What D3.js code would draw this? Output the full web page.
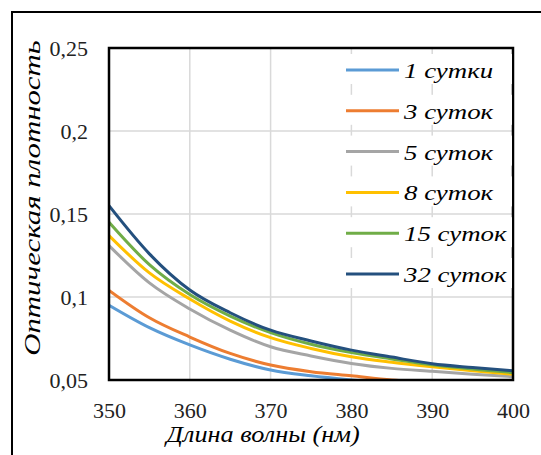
<html>
<head>
<meta charset="utf-8">
<title>Оптическая плотность</title>
<script src="https://d3js.org/d3.v7.min.js"></script>
<style>
  body { margin: 0; background: #fff; }
</style>
</head>
<body>
<svg id="chart" width="541" height="455"></svg>
<script>
// wavelengths, nm
var wavelengths = [350, 355, 360, 365, 370, 375, 380, 385, 390, 395, 400];

// optical density
var day1  = [0.095, 0.0815, 0.0711, 0.0625, 0.056, 0.0525, 0.050, 0.048, 0.0465, 0.045, 0.044];
var day3  = [0.104, 0.0875, 0.0759, 0.066, 0.059, 0.055, 0.0525, 0.050, 0.0485, 0.047, 0.046];
var day5  = [0.131, 0.1085, 0.0928, 0.080, 0.070, 0.0645, 0.060, 0.057, 0.0552, 0.0535, 0.052];
var day8  = [0.137, 0.1145, 0.0988, 0.0855, 0.0755, 0.069, 0.064, 0.0607, 0.058, 0.0556, 0.0535];
var day15 = [0.145, 0.1195, 0.1015, 0.0885, 0.0785, 0.0715, 0.0665, 0.0627, 0.0592, 0.0566, 0.0545];
var day32 = [0.155, 0.126, 0.1042, 0.0905, 0.080, 0.0735, 0.068, 0.0638, 0.0598, 0.0575, 0.0555];

var seriesNames = ["1 сутки", "3 суток", "5 суток", "8 суток", "15 суток", "32 суток"];
var seriesColors = ["#5b9bd5", "#ed7d31", "#a5a5a5", "#ffc000", "#70ad47", "#24507e"];
var allSeries = [day1, day3, day5, day8, day15, day32];

var xTicks = [350, 360, 370, 380, 390, 400];
var yTicks = [0.05, 0.1, 0.15, 0.2, 0.25];

var serif = "'Times New Roman', 'Liberation Serif', Tinos, 'DejaVu Serif', 'Noto Serif', serif";

// the serif italic in the original runs wider, stretch our text to its width
function widen(sel, k) {
  sel.each(function() {
    var w = this.getComputedTextLength();
    d3.select(this).attr("textLength", w * k).attr("lengthAdjust", "spacingAndGlyphs");
  });
}

var svg = d3.select("#chart");

// outer frame (runs off the right and bottom edge)
svg.append("rect")
  .attr("x", 12).attr("y", 12)
  .attr("width", 560).attr("height", 480)
  .attr("fill", "none").attr("stroke", "#000").attr("stroke-width", 2);

var pLeft = 109, pRight = 513, pTop = 48, pBottom = 380;

var x = d3.scaleLinear().domain([350, 400]).range([pLeft, pRight]);
var y = d3.scaleLinear().domain([0.05, 0.25]).range([pBottom, pTop]);

// gridlines
svg.append("g")
  .selectAll("line")
  .data(xTicks)
  .enter().append("line")
    .attr("x1", d => x(d)).attr("x2", d => x(d))
    .attr("y1", pTop).attr("y2", pBottom)
    .attr("stroke", "#d9d9d9").attr("stroke-width", 1.5);

svg.append("g")
  .selectAll("line")
  .data(yTicks)
  .enter().append("line")
    .attr("x1", pLeft).attr("x2", pRight)
    .attr("y1", d => y(d)).attr("y2", d => y(d))
    .attr("stroke", "#d9d9d9").attr("stroke-width", 1.5);

// clip for curves dipping below 0,05
svg.append("clipPath").attr("id", "plotclip")
  .append("rect")
    .attr("x", pLeft).attr("y", pTop)
    .attr("width", pRight - pLeft).attr("height", pBottom - pTop);

var line = d3.line()
  .x((d, i) => x(wavelengths[i]))
  .y(d => y(d))
  .curve(d3.curveMonotoneX);

svg.append("g")
  .attr("clip-path", "url(#plotclip)")
  .selectAll("path")
  .data(allSeries)
  .enter().append("path")
    .attr("d", d => line(d))
    .attr("fill", "none")
    .attr("stroke", (d, i) => seriesColors[i])
    .attr("stroke-width", 3);

// plot frame
svg.append("rect")
  .attr("x", pLeft).attr("y", pTop)
  .attr("width", pRight - pLeft).attr("height", pBottom - pTop)
  .attr("fill", "none").attr("stroke", "#000").attr("stroke-width", 2.5);

// axes (labels only, frame drawn above)
var xAxis = d3.axisBottom(x).tickValues(xTicks).tickSize(0).tickPadding(22)
  .tickFormat(d3.format("d"));
var gx = svg.append("g").attr("transform", "translate(0," + pBottom + ")").call(xAxis);
gx.select(".domain").remove();
gx.attr("font-family", serif).attr("font-size", 22);
gx.selectAll("text").attr("fill", "#222");

var yAxis = d3.axisLeft(y).tickValues(yTicks).tickSize(0).tickPadding(21)
  .tickFormat(d => String(d).replace(".", ","));
var gy = svg.append("g").attr("transform", "translate(" + pLeft + ",0)").call(yAxis);
gy.select(".domain").remove();
gy.attr("font-family", serif).attr("font-size", 22);
gy.selectAll("text").attr("fill", "#222");

// axis titles
svg.append("text")
  .attr("x", 263).attr("y", 442)
  .attr("text-anchor", "middle")
  .attr("font-family", serif).attr("font-size", 23).attr("font-style", "italic")
  .text("Длина волны (нм)")
  .call(widen, 1.14);

svg.append("text")
  .attr("transform", "translate(40,198) rotate(-90)")
  .attr("text-anchor", "middle")
  .attr("font-family", serif).attr("font-size", 23).attr("font-style", "italic")
  .text("Оптическая плотность")
  .call(widen, 1.34);

// legend
var legend = svg.append("g")
  .selectAll("g")
  .data(seriesNames)
  .enter().append("g")
    .attr("transform", (d, i) => "translate(346," + (70 + i * 40.8) + ")");

legend.append("rect")
  .attr("x", -2).attr("y", -16).attr("width", 168).attr("height", 30)
  .attr("fill", "#fff");

legend.append("line")
  .attr("x1", 0).attr("x2", 53)
  .attr("stroke", (d, i) => seriesColors[i]).attr("stroke-width", 3);

legend.append("text")
  .attr("x", 58).attr("y", 8)
  .attr("font-family", serif).attr("font-size", 22).attr("font-style", "italic")
  .text(d => d)
  .call(widen, 1.22);
</script>
</body>
</html>
